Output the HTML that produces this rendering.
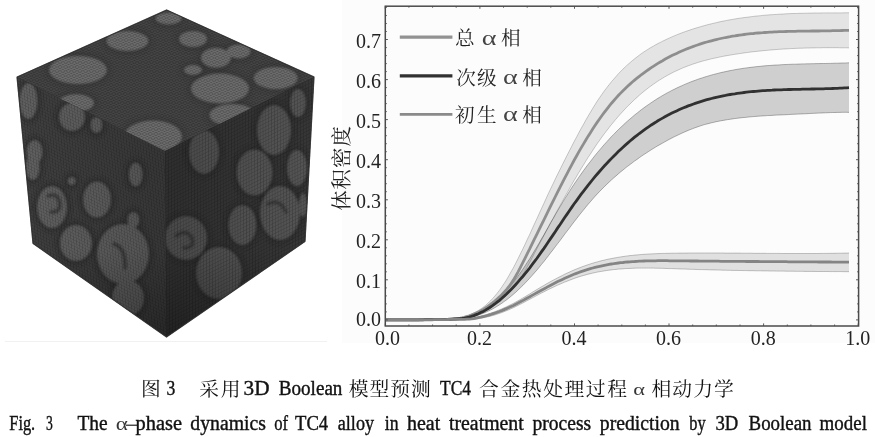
<!DOCTYPE html>
<html lang="zh"><head><meta charset="utf-8"><title>Fig. 3</title>
<style>html,body{margin:0;padding:0;background:#fff}body{width:875px;height:437px;position:relative;overflow:hidden;font-family:"Liberation Serif",serif}</style></head>
<body>
<svg width="875" height="437" viewBox="0 0 875 437" style="position:absolute;left:0;top:0">
<g opacity="0.995">
<defs><filter id="b1" x="-5%" y="-5%" width="110%" height="110%"><feGaussianBlur stdDeviation="1.1"/></filter><filter id="b2" x="-5%" y="-5%" width="110%" height="110%"><feGaussianBlur stdDeviation="2.2"/></filter><filter id="b0" x="-5%" y="-5%" width="110%" height="110%"><feGaussianBlur stdDeviation="0.45"/></filter><clipPath id="cT"><polygon points="166.7,10 314,77 165,151 17,77"/></clipPath><clipPath id="cL"><polygon points="17,77 165,151 166.5,337 33,243.5"/></clipPath><clipPath id="cR"><polygon points="165,151 314,77 305,241.5 166.5,337"/></clipPath><pattern id="gr" width="3" height="3" patternUnits="userSpaceOnUse"><path d="M0,0H3M0,0V3" stroke="#000" stroke-opacity=".22" stroke-width=".8"/></pattern></defs>
<rect x="342" y="0" width="533" height="343" fill="#fcfcfc"/>
<defs><linearGradient id="sL" gradientUnits="userSpaceOnUse" x1="17" y1="0" x2="166" y2="0"><stop offset="0" stop-color="#000" stop-opacity="0"/><stop offset="1" stop-color="#000" stop-opacity=".14"/></linearGradient><linearGradient id="sR" gradientUnits="userSpaceOnUse" x1="166" y1="0" x2="312" y2="0"><stop offset="0" stop-color="#000" stop-opacity=".16"/><stop offset="1" stop-color="#000" stop-opacity=".02"/></linearGradient><linearGradient id="sB" gradientUnits="userSpaceOnUse" x1="0" y1="250" x2="0" y2="337"><stop offset="0" stop-color="#000" stop-opacity="0"/><stop offset="1" stop-color="#000" stop-opacity=".28"/></linearGradient></defs><defs><pattern id="gT" width="1" height="1" patternUnits="userSpaceOnUse" patternTransform="matrix(2.8327 1.2885 -2.8788 1.2885 166.7 10)"><path d="M0,0H1M0,0V1" stroke="#000" stroke-opacity="0.35" stroke-width=".3"/></pattern><pattern id="gL" width="1" height="1" patternUnits="userSpaceOnUse" patternTransform="matrix(2.8462 1.4231 0.3077 3.2019 17 77)"><path d="M0,0H1M0,0V1" stroke="#000" stroke-opacity="0.3" stroke-width=".3"/></pattern><pattern id="gR" width="1" height="1" patternUnits="userSpaceOnUse" patternTransform="matrix(2.8654 -1.4231 0.0288 3.5769 165 151)"><path d="M0,0H1M0,0V1" stroke="#000" stroke-opacity="0.3" stroke-width=".3"/></pattern></defs><g filter="url(#b0)"><polygon points="166.7,10 314,77 305,241.5 166.5,337 33,243.5 17,77" fill="#3a3a3a" stroke="#3a3a3a" stroke-width="0.6"/></g><polygon points="166.7,10 314,77 165,151 17,77" fill="#434343"/><polygon points="17,77 165,151 166.5,337 33,243.5" fill="#3e3e3e"/><polygon points="165,151 314,77 305,241.5 166.5,337" fill="#363636"/><g clip-path="url(#cT)"><g filter="url(#b2)" fill="#333" fill-opacity=".55"><ellipse cx="168.6" cy="18.5" rx="16.5" ry="9.5"/><ellipse cx="127.4" cy="41" rx="24.5" ry="13.5"/><ellipse cx="193" cy="39" rx="17.5" ry="11.5"/><ellipse cx="78" cy="70" rx="32.5" ry="17.5"/><ellipse cx="216" cy="57.7" rx="18.5" ry="13.5"/><ellipse cx="238.6" cy="51.5" rx="15.5" ry="10.5"/><ellipse cx="220" cy="88.5" rx="32.5" ry="18.5"/><ellipse cx="275.7" cy="78" rx="25.5" ry="14.5"/><ellipse cx="232.4" cy="115" rx="26.5" ry="14.5"/><ellipse cx="153" cy="136.5" rx="32.5" ry="19.5"/><ellipse cx="193" cy="70" rx="12.5" ry="8.5"/><ellipse cx="76" cy="103" rx="21.5" ry="12.5"/></g><g filter="url(#b1)" fill="#6a6a6a"><ellipse cx="168.6" cy="18.5" rx="13" ry="6"/><ellipse cx="127.4" cy="41" rx="21" ry="10"/><ellipse cx="193" cy="39" rx="14" ry="8"/><ellipse cx="78" cy="70" rx="29" ry="14"/><ellipse cx="216" cy="57.7" rx="15" ry="10"/><ellipse cx="238.6" cy="51.5" rx="12" ry="7"/><ellipse cx="220" cy="88.5" rx="29" ry="15"/><ellipse cx="275.7" cy="78" rx="22" ry="11"/><ellipse cx="232.4" cy="115" rx="23" ry="11"/><ellipse cx="153" cy="136.5" rx="29" ry="16"/><ellipse cx="193" cy="70" rx="9" ry="5"/><ellipse cx="76" cy="103" rx="18" ry="9"/></g></g><g clip-path="url(#cL)"><g filter="url(#b2)" fill="#2c2c2c" fill-opacity=".55"><ellipse cx="28.5" cy="101" rx="12.5" ry="21.5"/><ellipse cx="72" cy="117" rx="16.5" ry="17.5"/><ellipse cx="96.5" cy="125" rx="9.5" ry="11.5"/><ellipse cx="34.7" cy="152" rx="11.5" ry="15.5"/><ellipse cx="52" cy="207" rx="18.5" ry="24.5"/><ellipse cx="97" cy="199.5" rx="17.5" ry="21.5"/><ellipse cx="76" cy="243" rx="19.5" ry="21.5"/><ellipse cx="123" cy="254" rx="29.5" ry="33.5"/><ellipse cx="128" cy="298" rx="19.5" ry="21.5"/><ellipse cx="135.7" cy="174.5" rx="10.5" ry="15.5"/><ellipse cx="133.4" cy="220" rx="9.5" ry="11.5"/><ellipse cx="32.8" cy="167" rx="10.5" ry="16.5"/><ellipse cx="71.7" cy="181" rx="7.5" ry="7.5"/></g><g filter="url(#b1)" fill="#5f5f5f"><ellipse cx="28.5" cy="101" rx="9" ry="18"/><ellipse cx="72" cy="117" rx="13" ry="14"/><ellipse cx="96.5" cy="125" rx="6" ry="8"/><ellipse cx="34.7" cy="152" rx="8" ry="12"/><ellipse cx="52" cy="207" rx="15" ry="21"/><ellipse cx="97" cy="199.5" rx="14" ry="18"/><ellipse cx="76" cy="243" rx="16" ry="18"/><ellipse cx="123" cy="254" rx="26" ry="30"/><ellipse cx="128" cy="298" rx="16" ry="18"/><ellipse cx="135.7" cy="174.5" rx="7" ry="12"/><ellipse cx="133.4" cy="220" rx="6" ry="8"/><ellipse cx="32.8" cy="167" rx="7" ry="13"/><ellipse cx="71.7" cy="181" rx="4" ry="4"/></g></g><g clip-path="url(#cR)"><g filter="url(#b2)" fill="#282828" fill-opacity=".55"><ellipse cx="274" cy="130" rx="20.5" ry="28.5"/><ellipse cx="298" cy="103" rx="11.5" ry="17.5"/><ellipse cx="204" cy="152" rx="18.5" ry="25.5"/><ellipse cx="254.5" cy="172.5" rx="21.5" ry="26.5"/><ellipse cx="297" cy="168" rx="13.5" ry="21.5"/><ellipse cx="186" cy="238" rx="24.5" ry="25.5"/><ellipse cx="242.4" cy="225" rx="17.5" ry="23.5"/><ellipse cx="280" cy="213" rx="23.5" ry="30.5"/><ellipse cx="219" cy="273" rx="26.5" ry="29.5"/><ellipse cx="303" cy="205" rx="7.5" ry="15.5"/></g><g filter="url(#b1)" fill="#545454"><ellipse cx="274" cy="130" rx="17" ry="25"/><ellipse cx="298" cy="103" rx="8" ry="14"/><ellipse cx="204" cy="152" rx="15" ry="22"/><ellipse cx="254.5" cy="172.5" rx="18" ry="23"/><ellipse cx="297" cy="168" rx="10" ry="18"/><ellipse cx="186" cy="238" rx="21" ry="22"/><ellipse cx="242.4" cy="225" rx="14" ry="20"/><ellipse cx="280" cy="213" rx="20" ry="27"/><ellipse cx="219" cy="273" rx="23" ry="26"/><ellipse cx="303" cy="205" rx="4" ry="12"/></g></g><g filter="url(#b1)" fill="none" stroke="#333" stroke-width="3.5" stroke-linecap="round" stroke-opacity=".8"><path d="M48,196 q10,-4 12,8 q0,9 -9,8"/><path d="M176,236 q10,-8 16,2 q3,10 -8,10"/><path d="M114,244 q12,4 11,24"/><path d="M268,204 q12,-6 18,8"/></g><polygon points="17,77 165,151 166.5,337 33,243.5" fill="url(#sL)"/><polygon points="165,151 314,77 305,241.5 166.5,337" fill="url(#sR)"/><polygon points="17,77 165,151 314,77 305,241.5 166.5,337 33,243.5" fill="url(#sB)"/><polygon points="166.7,10 314,77 165,151 17,77" fill="url(#gT)"/><polygon points="17,77 165,151 166.5,337 33,243.5" fill="url(#gL)"/><polygon points="165,151 314,77 305,241.5 166.5,337" fill="url(#gR)"/><polygon points="166.7,10 314,77 305,241.5 166.5,337 33,243.5 17,77" fill="none" stroke="#2e2e2e" stroke-width="1.2" stroke-opacity=".7" filter="url(#b0)"/>
<rect x="5" y="341" width="322" height="1" fill="#f1f1f1"/>
<g fill="none">
<path d="M385.3,319.7 L387.6,319.7 L390.0,319.7 L392.3,319.7 L394.6,319.7 L397.0,319.7 L399.3,319.7 L401.6,319.7 L403.9,319.6 L406.3,319.6 L408.6,319.6 L410.9,319.6 L413.3,319.6 L415.6,319.6 L417.9,319.5 L420.3,319.5 L422.6,319.5 L424.9,319.4 L427.2,319.4 L429.6,319.4 L431.9,319.3 L434.2,319.3 L436.6,319.3 L438.9,319.2 L441.2,319.2 L443.6,319.1 L445.9,319.0 L448.2,318.8 L450.5,318.6 L452.9,318.3 L455.2,318.1 L457.5,317.8 L459.9,317.4 L462.2,316.9 L464.5,316.2 L466.9,315.5 L469.2,314.7 L471.5,313.9 L473.8,312.9 L476.2,311.7 L478.5,310.4 L480.8,308.9 L483.2,307.2 L485.5,305.4 L487.8,303.3 L490.2,301.1 L492.5,298.7 L494.8,296.1 L497.1,293.3 L499.5,290.2 L501.8,287.0 L504.1,283.5 L506.5,279.8 L508.8,275.8 L511.1,271.7 L513.5,267.5 L515.8,263.1 L518.1,258.5 L520.4,253.8 L522.8,249.0 L525.1,244.2 L527.4,239.2 L529.8,234.2 L532.1,229.1 L534.4,224.0 L536.8,218.9 L539.1,213.8 L541.4,208.7 L543.8,203.6 L546.1,198.5 L548.4,193.5 L550.7,188.6 L553.1,183.7 L555.4,178.8 L557.7,174.1 L560.1,169.3 L562.4,164.6 L564.7,160.0 L567.1,155.3 L569.4,150.8 L571.7,146.3 L574.0,141.8 L576.4,137.4 L578.7,133.0 L581.0,128.7 L583.4,124.5 L585.7,120.3 L588.0,116.3 L590.4,112.3 L592.7,108.4 L595.0,104.7 L597.3,101.0 L599.7,97.5 L602.0,94.2 L604.3,90.9 L606.7,87.8 L609.0,84.8 L611.3,81.9 L613.7,79.2 L616.0,76.5 L618.3,73.9 L620.6,71.5 L623.0,69.1 L625.3,66.9 L627.6,64.7 L630.0,62.7 L632.3,60.7 L634.6,58.8 L637.0,57.0 L639.3,55.2 L641.6,53.5 L643.9,51.9 L646.3,50.4 L648.6,48.9 L650.9,47.5 L653.3,46.2 L655.6,44.8 L657.9,43.6 L660.3,42.4 L662.6,41.2 L664.9,40.1 L667.2,39.0 L669.6,37.9 L671.9,36.9 L674.2,35.9 L676.6,34.9 L678.9,34.0 L681.2,33.1 L683.6,32.2 L685.9,31.4 L688.2,30.6 L690.5,29.8 L692.9,29.0 L695.2,28.3 L697.5,27.6 L699.9,26.9 L702.2,26.2 L704.5,25.6 L706.9,24.9 L709.2,24.3 L711.5,23.8 L713.9,23.2 L716.2,22.7 L718.5,22.1 L720.8,21.6 L723.2,21.1 L725.5,20.7 L727.8,20.2 L730.2,19.8 L732.5,19.4 L734.8,19.0 L737.2,18.6 L739.5,18.2 L741.8,17.9 L744.1,17.6 L746.5,17.3 L748.8,17.0 L751.1,16.7 L753.5,16.4 L755.8,16.1 L758.1,15.9 L760.5,15.7 L762.8,15.4 L765.1,15.2 L767.4,15.0 L769.8,14.8 L772.1,14.7 L774.4,14.5 L776.8,14.4 L779.1,14.2 L781.4,14.1 L783.8,14.0 L786.1,13.8 L788.4,13.7 L790.7,13.6 L793.1,13.5 L795.4,13.5 L797.7,13.4 L800.1,13.3 L802.4,13.3 L804.7,13.2 L807.1,13.2 L809.4,13.1 L811.7,13.1 L814.0,13.0 L816.4,13.0 L818.7,13.0 L821.0,13.0 L823.4,12.9 L825.7,12.9 L828.0,12.9 L830.4,12.9 L832.7,12.9 L835.0,12.9 L837.3,12.9 L839.7,12.9 L842.0,12.9 L844.3,12.8 L846.7,12.8 L849.0,12.8 L849.0,47.9 L846.7,47.8 L844.3,47.8 L842.0,47.8 L839.7,47.8 L837.3,47.7 L835.0,47.7 L832.7,47.7 L830.4,47.7 L828.0,47.7 L825.7,47.7 L823.4,47.7 L821.0,47.8 L818.7,47.8 L816.4,47.8 L814.0,47.9 L811.7,47.9 L809.4,48.0 L807.1,48.0 L804.7,48.1 L802.4,48.2 L800.1,48.2 L797.7,48.3 L795.4,48.4 L793.1,48.5 L790.7,48.6 L788.4,48.8 L786.1,48.9 L783.8,49.0 L781.4,49.2 L779.1,49.3 L776.8,49.5 L774.4,49.7 L772.1,49.9 L769.8,50.1 L767.4,50.3 L765.1,50.5 L762.8,50.7 L760.5,51.0 L758.1,51.2 L755.8,51.5 L753.5,51.7 L751.1,52.0 L748.8,52.3 L746.5,52.6 L744.1,52.9 L741.8,53.3 L739.5,53.6 L737.2,54.0 L734.8,54.3 L732.5,54.7 L730.2,55.1 L727.8,55.5 L725.5,55.9 L723.2,56.3 L720.8,56.8 L718.5,57.3 L716.2,57.8 L713.9,58.3 L711.5,58.8 L709.2,59.4 L706.9,60.0 L704.5,60.6 L702.2,61.2 L699.9,61.9 L697.5,62.6 L695.2,63.4 L692.9,64.1 L690.5,65.0 L688.2,65.8 L685.9,66.7 L683.6,67.6 L681.2,68.6 L678.9,69.7 L676.6,70.7 L674.2,71.8 L671.9,73.0 L669.6,74.2 L667.2,75.5 L664.9,76.8 L662.6,78.2 L660.3,79.6 L657.9,81.1 L655.6,82.7 L653.3,84.3 L650.9,86.0 L648.6,87.7 L646.3,89.5 L643.9,91.4 L641.6,93.3 L639.3,95.3 L637.0,97.4 L634.6,99.5 L632.3,101.7 L630.0,104.0 L627.6,106.3 L625.3,108.7 L623.0,111.2 L620.6,113.8 L618.3,116.4 L616.0,119.1 L613.7,121.9 L611.3,124.7 L609.0,127.7 L606.7,130.7 L604.3,133.8 L602.0,136.9 L599.7,140.2 L597.3,143.5 L595.0,146.9 L592.7,150.4 L590.4,154.0 L588.0,157.6 L585.7,161.3 L583.4,165.1 L581.0,168.9 L578.7,172.8 L576.4,176.7 L574.0,180.7 L571.7,184.7 L569.4,188.8 L567.1,192.9 L564.7,197.1 L562.4,201.3 L560.1,205.5 L557.7,209.8 L555.4,214.0 L553.1,218.4 L550.7,222.7 L548.4,227.1 L546.1,231.4 L543.8,235.8 L541.4,240.2 L539.1,244.6 L536.8,249.0 L534.4,253.4 L532.1,257.9 L529.8,262.3 L527.4,266.6 L525.1,270.9 L522.8,274.9 L520.4,278.7 L518.1,282.2 L515.8,285.4 L513.5,288.3 L511.1,290.9 L508.8,293.3 L506.5,295.6 L504.1,297.7 L501.8,299.6 L499.5,301.5 L497.1,303.3 L494.8,304.9 L492.5,306.5 L490.2,308.0 L487.8,309.4 L485.5,310.7 L483.2,311.9 L480.8,313.0 L478.5,314.0 L476.2,314.9 L473.8,315.8 L471.5,316.6 L469.2,317.3 L466.9,317.9 L464.5,318.4 L462.2,318.7 L459.9,319.0 L457.5,319.1 L455.2,319.2 L452.9,319.4 L450.5,319.5 L448.2,319.6 L445.9,319.7 L443.6,319.7 L441.2,319.8 L438.9,319.8 L436.6,319.8 L434.2,319.9 L431.9,319.9 L429.6,319.9 L427.2,319.9 L424.9,319.9 L422.6,320.0 L420.3,320.0 L417.9,320.0 L415.6,320.0 L413.3,320.0 L410.9,320.0 L408.6,320.0 L406.3,320.1 L403.9,320.1 L401.6,320.1 L399.3,320.1 L397.0,320.1 L394.6,320.1 L392.3,320.1 L390.0,320.1 L387.6,320.1 L385.3,320.1Z" fill="#000" fill-opacity="0.095"/>
<path d="M385.3,319.7 L387.6,319.7 L390.0,319.7 L392.3,319.7 L394.6,319.7 L397.0,319.7 L399.3,319.7 L401.6,319.7 L403.9,319.6 L406.3,319.6 L408.6,319.6 L410.9,319.6 L413.3,319.6 L415.6,319.6 L417.9,319.5 L420.3,319.5 L422.6,319.5 L424.9,319.4 L427.2,319.4 L429.6,319.4 L431.9,319.3 L434.2,319.3 L436.6,319.3 L438.9,319.2 L441.2,319.2 L443.6,319.1 L445.9,319.0 L448.2,318.8 L450.5,318.6 L452.9,318.3 L455.2,318.1 L457.5,317.8 L459.9,317.4 L462.2,316.9 L464.5,316.2 L466.9,315.5 L469.2,314.7 L471.5,313.9 L473.8,312.9 L476.2,311.7 L478.5,310.4 L480.8,308.9 L483.2,307.2 L485.5,305.4 L487.8,303.3 L490.2,301.1 L492.5,298.7 L494.8,296.1 L497.1,293.3 L499.5,290.2 L501.8,287.0 L504.1,283.5 L506.5,279.8 L508.8,275.8 L511.1,271.7 L513.5,267.5 L515.8,263.1 L518.1,258.5 L520.4,253.8 L522.8,249.0 L525.1,244.2 L527.4,239.2 L529.8,234.2 L532.1,229.1 L534.4,224.0 L536.8,218.9 L539.1,213.8 L541.4,208.7 L543.8,203.6 L546.1,198.5 L548.4,193.5 L550.7,188.6 L553.1,183.7 L555.4,178.8 L557.7,174.1 L560.1,169.3 L562.4,164.6 L564.7,160.0 L567.1,155.3 L569.4,150.8 L571.7,146.3 L574.0,141.8 L576.4,137.4 L578.7,133.0 L581.0,128.7 L583.4,124.5 L585.7,120.3 L588.0,116.3 L590.4,112.3 L592.7,108.4 L595.0,104.7 L597.3,101.0 L599.7,97.5 L602.0,94.2 L604.3,90.9 L606.7,87.8 L609.0,84.8 L611.3,81.9 L613.7,79.2 L616.0,76.5 L618.3,73.9 L620.6,71.5 L623.0,69.1 L625.3,66.9 L627.6,64.7 L630.0,62.7 L632.3,60.7 L634.6,58.8 L637.0,57.0 L639.3,55.2 L641.6,53.5 L643.9,51.9 L646.3,50.4 L648.6,48.9 L650.9,47.5 L653.3,46.2 L655.6,44.8 L657.9,43.6 L660.3,42.4 L662.6,41.2 L664.9,40.1 L667.2,39.0 L669.6,37.9 L671.9,36.9 L674.2,35.9 L676.6,34.9 L678.9,34.0 L681.2,33.1 L683.6,32.2 L685.9,31.4 L688.2,30.6 L690.5,29.8 L692.9,29.0 L695.2,28.3 L697.5,27.6 L699.9,26.9 L702.2,26.2 L704.5,25.6 L706.9,24.9 L709.2,24.3 L711.5,23.8 L713.9,23.2 L716.2,22.7 L718.5,22.1 L720.8,21.6 L723.2,21.1 L725.5,20.7 L727.8,20.2 L730.2,19.8 L732.5,19.4 L734.8,19.0 L737.2,18.6 L739.5,18.2 L741.8,17.9 L744.1,17.6 L746.5,17.3 L748.8,17.0 L751.1,16.7 L753.5,16.4 L755.8,16.1 L758.1,15.9 L760.5,15.7 L762.8,15.4 L765.1,15.2 L767.4,15.0 L769.8,14.8 L772.1,14.7 L774.4,14.5 L776.8,14.4 L779.1,14.2 L781.4,14.1 L783.8,14.0 L786.1,13.8 L788.4,13.7 L790.7,13.6 L793.1,13.5 L795.4,13.5 L797.7,13.4 L800.1,13.3 L802.4,13.3 L804.7,13.2 L807.1,13.2 L809.4,13.1 L811.7,13.1 L814.0,13.0 L816.4,13.0 L818.7,13.0 L821.0,13.0 L823.4,12.9 L825.7,12.9 L828.0,12.9 L830.4,12.9 L832.7,12.9 L835.0,12.9 L837.3,12.9 L839.7,12.9 L842.0,12.9 L844.3,12.8 L846.7,12.8 L849.0,12.8 M385.3,320.1 L387.6,320.1 L390.0,320.1 L392.3,320.1 L394.6,320.1 L397.0,320.1 L399.3,320.1 L401.6,320.1 L403.9,320.1 L406.3,320.1 L408.6,320.0 L410.9,320.0 L413.3,320.0 L415.6,320.0 L417.9,320.0 L420.3,320.0 L422.6,320.0 L424.9,319.9 L427.2,319.9 L429.6,319.9 L431.9,319.9 L434.2,319.9 L436.6,319.8 L438.9,319.8 L441.2,319.8 L443.6,319.7 L445.9,319.7 L448.2,319.6 L450.5,319.5 L452.9,319.4 L455.2,319.2 L457.5,319.1 L459.9,319.0 L462.2,318.7 L464.5,318.4 L466.9,317.9 L469.2,317.3 L471.5,316.6 L473.8,315.8 L476.2,314.9 L478.5,314.0 L480.8,313.0 L483.2,311.9 L485.5,310.7 L487.8,309.4 L490.2,308.0 L492.5,306.5 L494.8,304.9 L497.1,303.3 L499.5,301.5 L501.8,299.6 L504.1,297.7 L506.5,295.6 L508.8,293.3 L511.1,290.9 L513.5,288.3 L515.8,285.4 L518.1,282.2 L520.4,278.7 L522.8,274.9 L525.1,270.9 L527.4,266.6 L529.8,262.3 L532.1,257.9 L534.4,253.4 L536.8,249.0 L539.1,244.6 L541.4,240.2 L543.8,235.8 L546.1,231.4 L548.4,227.1 L550.7,222.7 L553.1,218.4 L555.4,214.0 L557.7,209.8 L560.1,205.5 L562.4,201.3 L564.7,197.1 L567.1,192.9 L569.4,188.8 L571.7,184.7 L574.0,180.7 L576.4,176.7 L578.7,172.8 L581.0,168.9 L583.4,165.1 L585.7,161.3 L588.0,157.6 L590.4,154.0 L592.7,150.4 L595.0,146.9 L597.3,143.5 L599.7,140.2 L602.0,136.9 L604.3,133.8 L606.7,130.7 L609.0,127.7 L611.3,124.7 L613.7,121.9 L616.0,119.1 L618.3,116.4 L620.6,113.8 L623.0,111.2 L625.3,108.7 L627.6,106.3 L630.0,104.0 L632.3,101.7 L634.6,99.5 L637.0,97.4 L639.3,95.3 L641.6,93.3 L643.9,91.4 L646.3,89.5 L648.6,87.7 L650.9,86.0 L653.3,84.3 L655.6,82.7 L657.9,81.1 L660.3,79.6 L662.6,78.2 L664.9,76.8 L667.2,75.5 L669.6,74.2 L671.9,73.0 L674.2,71.8 L676.6,70.7 L678.9,69.7 L681.2,68.6 L683.6,67.6 L685.9,66.7 L688.2,65.8 L690.5,65.0 L692.9,64.1 L695.2,63.4 L697.5,62.6 L699.9,61.9 L702.2,61.2 L704.5,60.6 L706.9,60.0 L709.2,59.4 L711.5,58.8 L713.9,58.3 L716.2,57.8 L718.5,57.3 L720.8,56.8 L723.2,56.3 L725.5,55.9 L727.8,55.5 L730.2,55.1 L732.5,54.7 L734.8,54.3 L737.2,54.0 L739.5,53.6 L741.8,53.3 L744.1,52.9 L746.5,52.6 L748.8,52.3 L751.1,52.0 L753.5,51.7 L755.8,51.5 L758.1,51.2 L760.5,51.0 L762.8,50.7 L765.1,50.5 L767.4,50.3 L769.8,50.1 L772.1,49.9 L774.4,49.7 L776.8,49.5 L779.1,49.3 L781.4,49.2 L783.8,49.0 L786.1,48.9 L788.4,48.8 L790.7,48.6 L793.1,48.5 L795.4,48.4 L797.7,48.3 L800.1,48.2 L802.4,48.2 L804.7,48.1 L807.1,48.0 L809.4,48.0 L811.7,47.9 L814.0,47.9 L816.4,47.8 L818.7,47.8 L821.0,47.8 L823.4,47.7 L825.7,47.7 L828.0,47.7 L830.4,47.7 L832.7,47.7 L835.0,47.7 L837.3,47.7 L839.7,47.8 L842.0,47.8 L844.3,47.8 L846.7,47.8 L849.0,47.9" stroke="#000" stroke-opacity="0.22" stroke-width="0.9"/>
<path d="M385.3,319.8 L387.6,319.8 L390.0,319.8 L392.3,319.8 L394.6,319.8 L397.0,319.8 L399.3,319.8 L401.6,319.8 L403.9,319.8 L406.3,319.7 L408.6,319.7 L410.9,319.7 L413.3,319.7 L415.6,319.7 L417.9,319.7 L420.3,319.6 L422.6,319.6 L424.9,319.6 L427.2,319.6 L429.6,319.5 L431.9,319.5 L434.2,319.5 L436.6,319.4 L438.9,319.4 L441.2,319.4 L443.6,319.3 L445.9,319.2 L448.2,319.1 L450.5,319.0 L452.9,318.8 L455.2,318.6 L457.5,318.5 L459.9,318.3 L462.2,318.0 L464.5,317.5 L466.9,316.9 L469.2,316.3 L471.5,315.5 L473.8,314.6 L476.2,313.6 L478.5,312.6 L480.8,311.4 L483.2,310.1 L485.5,308.7 L487.8,307.2 L490.2,305.5 L492.5,303.8 L494.8,301.9 L497.1,299.9 L499.5,297.8 L501.8,295.5 L504.1,293.1 L506.5,290.5 L508.8,287.9 L511.1,285.1 L513.5,282.2 L515.8,279.1 L518.1,276.0 L520.4,272.7 L522.8,269.3 L525.1,265.8 L527.4,262.2 L529.8,258.6 L532.1,254.8 L534.4,250.9 L536.8,247.0 L539.1,243.1 L541.4,239.0 L543.8,235.0 L546.1,230.9 L548.4,226.8 L550.7,222.7 L553.1,218.7 L555.4,214.6 L557.7,210.6 L560.1,206.6 L562.4,202.7 L564.7,198.9 L567.1,195.1 L569.4,191.4 L571.7,187.8 L574.0,184.3 L576.4,180.8 L578.7,177.4 L581.0,174.1 L583.4,170.8 L585.7,167.6 L588.0,164.5 L590.4,161.5 L592.7,158.5 L595.0,155.5 L597.3,152.7 L599.7,149.9 L602.0,147.2 L604.3,144.5 L606.7,141.9 L609.0,139.3 L611.3,136.8 L613.7,134.4 L616.0,132.0 L618.3,129.7 L620.6,127.5 L623.0,125.3 L625.3,123.1 L627.6,121.0 L630.0,119.0 L632.3,117.0 L634.6,115.0 L637.0,113.2 L639.3,111.3 L641.6,109.5 L643.9,107.8 L646.3,106.1 L648.6,104.5 L650.9,102.9 L653.3,101.3 L655.6,99.8 L657.9,98.3 L660.3,96.9 L662.6,95.5 L664.9,94.2 L667.2,92.9 L669.6,91.7 L671.9,90.4 L674.2,89.3 L676.6,88.1 L678.9,87.0 L681.2,86.0 L683.6,84.9 L685.9,83.9 L688.2,83.0 L690.5,82.0 L692.9,81.1 L695.2,80.3 L697.5,79.4 L699.9,78.6 L702.2,77.9 L704.5,77.1 L706.9,76.4 L709.2,75.7 L711.5,75.0 L713.9,74.4 L716.2,73.8 L718.5,73.2 L720.8,72.6 L723.2,72.1 L725.5,71.6 L727.8,71.1 L730.2,70.6 L732.5,70.2 L734.8,69.7 L737.2,69.3 L739.5,68.9 L741.8,68.6 L744.1,68.2 L746.5,67.9 L748.8,67.6 L751.1,67.3 L753.5,67.0 L755.8,66.7 L758.1,66.5 L760.5,66.3 L762.8,66.0 L765.1,65.8 L767.4,65.6 L769.8,65.5 L772.1,65.3 L774.4,65.1 L776.8,65.0 L779.1,64.9 L781.4,64.7 L783.8,64.6 L786.1,64.5 L788.4,64.4 L790.7,64.3 L793.1,64.2 L795.4,64.2 L797.7,64.1 L800.1,64.0 L802.4,63.9 L804.7,63.9 L807.1,63.8 L809.4,63.8 L811.7,63.7 L814.0,63.7 L816.4,63.6 L818.7,63.6 L821.0,63.5 L823.4,63.5 L825.7,63.5 L828.0,63.4 L830.4,63.4 L832.7,63.3 L835.0,63.2 L837.3,63.2 L839.7,63.1 L842.0,63.0 L844.3,63.0 L846.7,62.9 L849.0,62.8 L849.0,112.4 L846.7,112.3 L844.3,112.3 L842.0,112.3 L839.7,112.4 L837.3,112.4 L835.0,112.5 L832.7,112.5 L830.4,112.6 L828.0,112.7 L825.7,112.8 L823.4,112.9 L821.0,113.0 L818.7,113.1 L816.4,113.2 L814.0,113.3 L811.7,113.4 L809.4,113.5 L807.1,113.7 L804.7,113.8 L802.4,113.9 L800.1,114.0 L797.7,114.1 L795.4,114.2 L793.1,114.3 L790.7,114.4 L788.4,114.6 L786.1,114.7 L783.8,114.8 L781.4,114.9 L779.1,115.0 L776.8,115.1 L774.4,115.2 L772.1,115.4 L769.8,115.5 L767.4,115.6 L765.1,115.8 L762.8,115.9 L760.5,116.1 L758.1,116.2 L755.8,116.4 L753.5,116.6 L751.1,116.8 L748.8,117.0 L746.5,117.3 L744.1,117.5 L741.8,117.7 L739.5,118.0 L737.2,118.3 L734.8,118.6 L732.5,118.9 L730.2,119.3 L727.8,119.6 L725.5,120.0 L723.2,120.4 L720.8,120.8 L718.5,121.3 L716.2,121.7 L713.9,122.3 L711.5,122.8 L709.2,123.4 L706.9,124.0 L704.5,124.6 L702.2,125.3 L699.9,126.1 L697.5,126.9 L695.2,127.7 L692.9,128.6 L690.5,129.5 L688.2,130.4 L685.9,131.4 L683.6,132.4 L681.2,133.5 L678.9,134.6 L676.6,135.7 L674.2,136.8 L671.9,138.0 L669.6,139.2 L667.2,140.5 L664.9,141.8 L662.6,143.1 L660.3,144.4 L657.9,145.7 L655.6,147.1 L653.3,148.5 L650.9,150.0 L648.6,151.5 L646.3,153.0 L643.9,154.5 L641.6,156.1 L639.3,157.7 L637.0,159.4 L634.6,161.0 L632.3,162.8 L630.0,164.5 L627.6,166.3 L625.3,168.1 L623.0,170.0 L620.6,171.9 L618.3,173.9 L616.0,175.9 L613.7,177.9 L611.3,180.1 L609.0,182.2 L606.7,184.4 L604.3,186.7 L602.0,189.0 L599.7,191.4 L597.3,193.9 L595.0,196.4 L592.7,199.0 L590.4,201.7 L588.0,204.4 L585.7,207.2 L583.4,210.1 L581.0,213.0 L578.7,215.9 L576.4,218.9 L574.0,221.9 L571.7,225.0 L569.4,228.1 L567.1,231.1 L564.7,234.2 L562.4,237.4 L560.1,240.5 L557.7,243.6 L555.4,246.6 L553.1,249.7 L550.7,252.7 L548.4,255.8 L546.1,258.7 L543.8,261.7 L541.4,264.5 L539.1,267.4 L536.8,270.2 L534.4,272.9 L532.1,275.5 L529.8,278.1 L527.4,280.7 L525.1,283.1 L522.8,285.5 L520.4,287.8 L518.1,290.0 L515.8,292.2 L513.5,294.2 L511.1,296.2 L508.8,298.1 L506.5,299.9 L504.1,301.6 L501.8,303.3 L499.5,304.8 L497.1,306.3 L494.8,307.7 L492.5,309.0 L490.2,310.2 L487.8,311.3 L485.5,312.4 L483.2,313.4 L480.8,314.3 L478.5,315.1 L476.2,315.9 L473.8,316.6 L471.5,317.2 L469.2,317.7 L466.9,318.2 L464.5,318.6 L462.2,318.9 L459.9,319.1 L457.5,319.2 L455.2,319.3 L452.9,319.4 L450.5,319.5 L448.2,319.6 L445.9,319.7 L443.6,319.7 L441.2,319.8 L438.9,319.8 L436.6,319.8 L434.2,319.8 L431.9,319.9 L429.6,319.9 L427.2,319.9 L424.9,319.9 L422.6,319.9 L420.3,319.9 L417.9,319.9 L415.6,319.9 L413.3,320.0 L410.9,320.0 L408.6,320.0 L406.3,320.0 L403.9,320.0 L401.6,320.0 L399.3,320.0 L397.0,320.0 L394.6,320.0 L392.3,320.0 L390.0,320.0 L387.6,320.0 L385.3,320.0Z" fill="#000" fill-opacity="0.175"/>
<path d="M385.3,319.8 L387.6,319.8 L390.0,319.8 L392.3,319.8 L394.6,319.8 L397.0,319.8 L399.3,319.8 L401.6,319.8 L403.9,319.8 L406.3,319.7 L408.6,319.7 L410.9,319.7 L413.3,319.7 L415.6,319.7 L417.9,319.7 L420.3,319.6 L422.6,319.6 L424.9,319.6 L427.2,319.6 L429.6,319.5 L431.9,319.5 L434.2,319.5 L436.6,319.4 L438.9,319.4 L441.2,319.4 L443.6,319.3 L445.9,319.2 L448.2,319.1 L450.5,319.0 L452.9,318.8 L455.2,318.6 L457.5,318.5 L459.9,318.3 L462.2,318.0 L464.5,317.5 L466.9,316.9 L469.2,316.3 L471.5,315.5 L473.8,314.6 L476.2,313.6 L478.5,312.6 L480.8,311.4 L483.2,310.1 L485.5,308.7 L487.8,307.2 L490.2,305.5 L492.5,303.8 L494.8,301.9 L497.1,299.9 L499.5,297.8 L501.8,295.5 L504.1,293.1 L506.5,290.5 L508.8,287.9 L511.1,285.1 L513.5,282.2 L515.8,279.1 L518.1,276.0 L520.4,272.7 L522.8,269.3 L525.1,265.8 L527.4,262.2 L529.8,258.6 L532.1,254.8 L534.4,250.9 L536.8,247.0 L539.1,243.1 L541.4,239.0 L543.8,235.0 L546.1,230.9 L548.4,226.8 L550.7,222.7 L553.1,218.7 L555.4,214.6 L557.7,210.6 L560.1,206.6 L562.4,202.7 L564.7,198.9 L567.1,195.1 L569.4,191.4 L571.7,187.8 L574.0,184.3 L576.4,180.8 L578.7,177.4 L581.0,174.1 L583.4,170.8 L585.7,167.6 L588.0,164.5 L590.4,161.5 L592.7,158.5 L595.0,155.5 L597.3,152.7 L599.7,149.9 L602.0,147.2 L604.3,144.5 L606.7,141.9 L609.0,139.3 L611.3,136.8 L613.7,134.4 L616.0,132.0 L618.3,129.7 L620.6,127.5 L623.0,125.3 L625.3,123.1 L627.6,121.0 L630.0,119.0 L632.3,117.0 L634.6,115.0 L637.0,113.2 L639.3,111.3 L641.6,109.5 L643.9,107.8 L646.3,106.1 L648.6,104.5 L650.9,102.9 L653.3,101.3 L655.6,99.8 L657.9,98.3 L660.3,96.9 L662.6,95.5 L664.9,94.2 L667.2,92.9 L669.6,91.7 L671.9,90.4 L674.2,89.3 L676.6,88.1 L678.9,87.0 L681.2,86.0 L683.6,84.9 L685.9,83.9 L688.2,83.0 L690.5,82.0 L692.9,81.1 L695.2,80.3 L697.5,79.4 L699.9,78.6 L702.2,77.9 L704.5,77.1 L706.9,76.4 L709.2,75.7 L711.5,75.0 L713.9,74.4 L716.2,73.8 L718.5,73.2 L720.8,72.6 L723.2,72.1 L725.5,71.6 L727.8,71.1 L730.2,70.6 L732.5,70.2 L734.8,69.7 L737.2,69.3 L739.5,68.9 L741.8,68.6 L744.1,68.2 L746.5,67.9 L748.8,67.6 L751.1,67.3 L753.5,67.0 L755.8,66.7 L758.1,66.5 L760.5,66.3 L762.8,66.0 L765.1,65.8 L767.4,65.6 L769.8,65.5 L772.1,65.3 L774.4,65.1 L776.8,65.0 L779.1,64.9 L781.4,64.7 L783.8,64.6 L786.1,64.5 L788.4,64.4 L790.7,64.3 L793.1,64.2 L795.4,64.2 L797.7,64.1 L800.1,64.0 L802.4,63.9 L804.7,63.9 L807.1,63.8 L809.4,63.8 L811.7,63.7 L814.0,63.7 L816.4,63.6 L818.7,63.6 L821.0,63.5 L823.4,63.5 L825.7,63.5 L828.0,63.4 L830.4,63.4 L832.7,63.3 L835.0,63.2 L837.3,63.2 L839.7,63.1 L842.0,63.0 L844.3,63.0 L846.7,62.9 L849.0,62.8 M385.3,320.0 L387.6,320.0 L390.0,320.0 L392.3,320.0 L394.6,320.0 L397.0,320.0 L399.3,320.0 L401.6,320.0 L403.9,320.0 L406.3,320.0 L408.6,320.0 L410.9,320.0 L413.3,320.0 L415.6,319.9 L417.9,319.9 L420.3,319.9 L422.6,319.9 L424.9,319.9 L427.2,319.9 L429.6,319.9 L431.9,319.9 L434.2,319.8 L436.6,319.8 L438.9,319.8 L441.2,319.8 L443.6,319.7 L445.9,319.7 L448.2,319.6 L450.5,319.5 L452.9,319.4 L455.2,319.3 L457.5,319.2 L459.9,319.1 L462.2,318.9 L464.5,318.6 L466.9,318.2 L469.2,317.7 L471.5,317.2 L473.8,316.6 L476.2,315.9 L478.5,315.1 L480.8,314.3 L483.2,313.4 L485.5,312.4 L487.8,311.3 L490.2,310.2 L492.5,309.0 L494.8,307.7 L497.1,306.3 L499.5,304.8 L501.8,303.3 L504.1,301.6 L506.5,299.9 L508.8,298.1 L511.1,296.2 L513.5,294.2 L515.8,292.2 L518.1,290.0 L520.4,287.8 L522.8,285.5 L525.1,283.1 L527.4,280.7 L529.8,278.1 L532.1,275.5 L534.4,272.9 L536.8,270.2 L539.1,267.4 L541.4,264.5 L543.8,261.7 L546.1,258.7 L548.4,255.8 L550.7,252.7 L553.1,249.7 L555.4,246.6 L557.7,243.6 L560.1,240.5 L562.4,237.4 L564.7,234.2 L567.1,231.1 L569.4,228.1 L571.7,225.0 L574.0,221.9 L576.4,218.9 L578.7,215.9 L581.0,213.0 L583.4,210.1 L585.7,207.2 L588.0,204.4 L590.4,201.7 L592.7,199.0 L595.0,196.4 L597.3,193.9 L599.7,191.4 L602.0,189.0 L604.3,186.7 L606.7,184.4 L609.0,182.2 L611.3,180.1 L613.7,177.9 L616.0,175.9 L618.3,173.9 L620.6,171.9 L623.0,170.0 L625.3,168.1 L627.6,166.3 L630.0,164.5 L632.3,162.8 L634.6,161.0 L637.0,159.4 L639.3,157.7 L641.6,156.1 L643.9,154.5 L646.3,153.0 L648.6,151.5 L650.9,150.0 L653.3,148.5 L655.6,147.1 L657.9,145.7 L660.3,144.4 L662.6,143.1 L664.9,141.8 L667.2,140.5 L669.6,139.2 L671.9,138.0 L674.2,136.8 L676.6,135.7 L678.9,134.6 L681.2,133.5 L683.6,132.4 L685.9,131.4 L688.2,130.4 L690.5,129.5 L692.9,128.6 L695.2,127.7 L697.5,126.9 L699.9,126.1 L702.2,125.3 L704.5,124.6 L706.9,124.0 L709.2,123.4 L711.5,122.8 L713.9,122.3 L716.2,121.7 L718.5,121.3 L720.8,120.8 L723.2,120.4 L725.5,120.0 L727.8,119.6 L730.2,119.3 L732.5,118.9 L734.8,118.6 L737.2,118.3 L739.5,118.0 L741.8,117.7 L744.1,117.5 L746.5,117.3 L748.8,117.0 L751.1,116.8 L753.5,116.6 L755.8,116.4 L758.1,116.2 L760.5,116.1 L762.8,115.9 L765.1,115.8 L767.4,115.6 L769.8,115.5 L772.1,115.4 L774.4,115.2 L776.8,115.1 L779.1,115.0 L781.4,114.9 L783.8,114.8 L786.1,114.7 L788.4,114.6 L790.7,114.4 L793.1,114.3 L795.4,114.2 L797.7,114.1 L800.1,114.0 L802.4,113.9 L804.7,113.8 L807.1,113.7 L809.4,113.5 L811.7,113.4 L814.0,113.3 L816.4,113.2 L818.7,113.1 L821.0,113.0 L823.4,112.9 L825.7,112.8 L828.0,112.7 L830.4,112.6 L832.7,112.5 L835.0,112.5 L837.3,112.4 L839.7,112.4 L842.0,112.3 L844.3,112.3 L846.7,112.3 L849.0,112.4" stroke="#000" stroke-opacity="0.32" stroke-width="0.9"/>
<path d="M385.3,319.7 L387.6,319.7 L390.0,319.7 L392.3,319.7 L394.6,319.7 L397.0,319.7 L399.3,319.7 L401.6,319.7 L403.9,319.7 L406.3,319.7 L408.6,319.6 L410.9,319.6 L413.3,319.6 L415.6,319.6 L417.9,319.6 L420.3,319.6 L422.6,319.6 L424.9,319.5 L427.2,319.5 L429.6,319.5 L431.9,319.5 L434.2,319.5 L436.6,319.4 L438.9,319.4 L441.2,319.4 L443.6,319.3 L445.9,319.3 L448.2,319.2 L450.5,319.0 L452.9,318.9 L455.2,318.8 L457.5,318.8 L459.9,318.7 L462.2,318.7 L464.5,318.6 L466.9,318.4 L469.2,318.2 L471.5,317.9 L473.8,317.6 L476.2,317.1 L478.5,316.6 L480.8,316.0 L483.2,315.4 L485.5,314.8 L487.8,314.1 L490.2,313.3 L492.5,312.5 L494.8,311.7 L497.1,310.8 L499.5,309.8 L501.8,308.9 L504.1,307.8 L506.5,306.8 L508.8,305.6 L511.1,304.5 L513.5,303.3 L515.8,302.0 L518.1,300.7 L520.4,299.4 L522.8,298.0 L525.1,296.7 L527.4,295.3 L529.8,293.9 L532.1,292.4 L534.4,291.0 L536.8,289.6 L539.1,288.2 L541.4,286.8 L543.8,285.5 L546.1,284.1 L548.4,282.8 L550.7,281.5 L553.1,280.2 L555.4,279.0 L557.7,277.8 L560.1,276.6 L562.4,275.4 L564.7,274.2 L567.1,273.1 L569.4,272.1 L571.7,271.0 L574.0,270.0 L576.4,269.0 L578.7,268.1 L581.0,267.2 L583.4,266.3 L585.7,265.5 L588.0,264.7 L590.4,263.9 L592.7,263.2 L595.0,262.5 L597.3,261.9 L599.7,261.2 L602.0,260.6 L604.3,260.1 L606.7,259.5 L609.0,259.0 L611.3,258.6 L613.7,258.1 L616.0,257.7 L618.3,257.3 L620.6,256.9 L623.0,256.6 L625.3,256.2 L627.6,255.9 L630.0,255.6 L632.3,255.4 L634.6,255.1 L637.0,254.9 L639.3,254.7 L641.6,254.5 L643.9,254.3 L646.3,254.2 L648.6,254.0 L650.9,253.9 L653.3,253.8 L655.6,253.7 L657.9,253.6 L660.3,253.5 L662.6,253.4 L664.9,253.4 L667.2,253.3 L669.6,253.3 L671.9,253.2 L674.2,253.2 L676.6,253.2 L678.9,253.1 L681.2,253.1 L683.6,253.1 L685.9,253.1 L688.2,253.0 L690.5,253.0 L692.9,253.0 L695.2,253.0 L697.5,253.0 L699.9,253.0 L702.2,253.0 L704.5,253.0 L706.9,253.0 L709.2,253.0 L711.5,253.0 L713.9,253.0 L716.2,253.0 L718.5,253.0 L720.8,253.0 L723.2,253.0 L725.5,253.1 L727.8,253.1 L730.2,253.1 L732.5,253.1 L734.8,253.1 L737.2,253.1 L739.5,253.1 L741.8,253.2 L744.1,253.2 L746.5,253.2 L748.8,253.2 L751.1,253.2 L753.5,253.3 L755.8,253.3 L758.1,253.3 L760.5,253.3 L762.8,253.3 L765.1,253.3 L767.4,253.4 L769.8,253.4 L772.1,253.4 L774.4,253.4 L776.8,253.4 L779.1,253.4 L781.4,253.5 L783.8,253.5 L786.1,253.5 L788.4,253.5 L790.7,253.5 L793.1,253.5 L795.4,253.5 L797.7,253.5 L800.1,253.5 L802.4,253.5 L804.7,253.5 L807.1,253.5 L809.4,253.5 L811.7,253.5 L814.0,253.5 L816.4,253.5 L818.7,253.5 L821.0,253.4 L823.4,253.4 L825.7,253.4 L828.0,253.4 L830.4,253.3 L832.7,253.3 L835.0,253.3 L837.3,253.2 L839.7,253.2 L842.0,253.2 L844.3,253.1 L846.7,253.1 L849.0,253.0 L849.0,271.7 L846.7,271.7 L844.3,271.7 L842.0,271.6 L839.7,271.6 L837.3,271.6 L835.0,271.6 L832.7,271.6 L830.4,271.6 L828.0,271.5 L825.7,271.5 L823.4,271.5 L821.0,271.5 L818.7,271.5 L816.4,271.5 L814.0,271.4 L811.7,271.4 L809.4,271.4 L807.1,271.4 L804.7,271.4 L802.4,271.3 L800.1,271.3 L797.7,271.3 L795.4,271.3 L793.1,271.2 L790.7,271.2 L788.4,271.2 L786.1,271.2 L783.8,271.1 L781.4,271.1 L779.1,271.1 L776.8,271.1 L774.4,271.0 L772.1,271.0 L769.8,271.0 L767.4,270.9 L765.1,270.9 L762.8,270.9 L760.5,270.8 L758.1,270.8 L755.8,270.8 L753.5,270.7 L751.1,270.7 L748.8,270.7 L746.5,270.6 L744.1,270.6 L741.8,270.5 L739.5,270.5 L737.2,270.4 L734.8,270.4 L732.5,270.4 L730.2,270.3 L727.8,270.3 L725.5,270.2 L723.2,270.2 L720.8,270.1 L718.5,270.0 L716.2,270.0 L713.9,269.9 L711.5,269.9 L709.2,269.8 L706.9,269.7 L704.5,269.7 L702.2,269.6 L699.9,269.6 L697.5,269.5 L695.2,269.4 L692.9,269.3 L690.5,269.3 L688.2,269.2 L685.9,269.1 L683.6,269.0 L681.2,269.0 L678.9,268.9 L676.6,268.8 L674.2,268.7 L671.9,268.6 L669.6,268.6 L667.2,268.5 L664.9,268.4 L662.6,268.3 L660.3,268.3 L657.9,268.2 L655.6,268.2 L653.3,268.1 L650.9,268.1 L648.6,268.1 L646.3,268.1 L643.9,268.1 L641.6,268.1 L639.3,268.1 L637.0,268.1 L634.6,268.2 L632.3,268.3 L630.0,268.4 L627.6,268.5 L625.3,268.6 L623.0,268.8 L620.6,269.0 L618.3,269.1 L616.0,269.4 L613.7,269.6 L611.3,269.9 L609.0,270.2 L606.7,270.5 L604.3,270.9 L602.0,271.3 L599.7,271.7 L597.3,272.1 L595.0,272.6 L592.7,273.1 L590.4,273.7 L588.0,274.2 L585.7,274.9 L583.4,275.5 L581.0,276.2 L578.7,276.9 L576.4,277.7 L574.0,278.5 L571.7,279.4 L569.4,280.3 L567.1,281.2 L564.7,282.1 L562.4,283.1 L560.1,284.1 L557.7,285.1 L555.4,286.2 L553.1,287.3 L550.7,288.4 L548.4,289.5 L546.1,290.7 L543.8,291.9 L541.4,293.1 L539.1,294.3 L536.8,295.5 L534.4,296.8 L532.1,298.0 L529.8,299.3 L527.4,300.5 L525.1,301.8 L522.8,303.0 L520.4,304.2 L518.1,305.4 L515.8,306.5 L513.5,307.7 L511.1,308.7 L508.8,309.8 L506.5,310.7 L504.1,311.7 L501.8,312.6 L499.5,313.4 L497.1,314.2 L494.8,315.0 L492.5,315.6 L490.2,316.3 L487.8,316.8 L485.5,317.4 L483.2,317.8 L480.8,318.2 L478.5,318.6 L476.2,318.9 L473.8,319.2 L471.5,319.4 L469.2,319.5 L466.9,319.6 L464.5,319.6 L462.2,319.7 L459.9,319.7 L457.5,319.7 L455.2,319.7 L452.9,319.7 L450.5,319.8 L448.2,319.9 L445.9,319.9 L443.6,320.0 L441.2,320.0 L438.9,320.0 L436.6,320.0 L434.2,320.0 L431.9,320.0 L429.6,320.0 L427.2,320.0 L424.9,320.0 L422.6,320.1 L420.3,320.1 L417.9,320.1 L415.6,320.1 L413.3,320.1 L410.9,320.1 L408.6,320.1 L406.3,320.1 L403.9,320.1 L401.6,320.1 L399.3,320.1 L397.0,320.1 L394.6,320.1 L392.3,320.1 L390.0,320.1 L387.6,320.1 L385.3,320.1Z" fill="#000" fill-opacity="0.11"/>
<path d="M385.3,319.7 L387.6,319.7 L390.0,319.7 L392.3,319.7 L394.6,319.7 L397.0,319.7 L399.3,319.7 L401.6,319.7 L403.9,319.7 L406.3,319.7 L408.6,319.6 L410.9,319.6 L413.3,319.6 L415.6,319.6 L417.9,319.6 L420.3,319.6 L422.6,319.6 L424.9,319.5 L427.2,319.5 L429.6,319.5 L431.9,319.5 L434.2,319.5 L436.6,319.4 L438.9,319.4 L441.2,319.4 L443.6,319.3 L445.9,319.3 L448.2,319.2 L450.5,319.0 L452.9,318.9 L455.2,318.8 L457.5,318.8 L459.9,318.7 L462.2,318.7 L464.5,318.6 L466.9,318.4 L469.2,318.2 L471.5,317.9 L473.8,317.6 L476.2,317.1 L478.5,316.6 L480.8,316.0 L483.2,315.4 L485.5,314.8 L487.8,314.1 L490.2,313.3 L492.5,312.5 L494.8,311.7 L497.1,310.8 L499.5,309.8 L501.8,308.9 L504.1,307.8 L506.5,306.8 L508.8,305.6 L511.1,304.5 L513.5,303.3 L515.8,302.0 L518.1,300.7 L520.4,299.4 L522.8,298.0 L525.1,296.7 L527.4,295.3 L529.8,293.9 L532.1,292.4 L534.4,291.0 L536.8,289.6 L539.1,288.2 L541.4,286.8 L543.8,285.5 L546.1,284.1 L548.4,282.8 L550.7,281.5 L553.1,280.2 L555.4,279.0 L557.7,277.8 L560.1,276.6 L562.4,275.4 L564.7,274.2 L567.1,273.1 L569.4,272.1 L571.7,271.0 L574.0,270.0 L576.4,269.0 L578.7,268.1 L581.0,267.2 L583.4,266.3 L585.7,265.5 L588.0,264.7 L590.4,263.9 L592.7,263.2 L595.0,262.5 L597.3,261.9 L599.7,261.2 L602.0,260.6 L604.3,260.1 L606.7,259.5 L609.0,259.0 L611.3,258.6 L613.7,258.1 L616.0,257.7 L618.3,257.3 L620.6,256.9 L623.0,256.6 L625.3,256.2 L627.6,255.9 L630.0,255.6 L632.3,255.4 L634.6,255.1 L637.0,254.9 L639.3,254.7 L641.6,254.5 L643.9,254.3 L646.3,254.2 L648.6,254.0 L650.9,253.9 L653.3,253.8 L655.6,253.7 L657.9,253.6 L660.3,253.5 L662.6,253.4 L664.9,253.4 L667.2,253.3 L669.6,253.3 L671.9,253.2 L674.2,253.2 L676.6,253.2 L678.9,253.1 L681.2,253.1 L683.6,253.1 L685.9,253.1 L688.2,253.0 L690.5,253.0 L692.9,253.0 L695.2,253.0 L697.5,253.0 L699.9,253.0 L702.2,253.0 L704.5,253.0 L706.9,253.0 L709.2,253.0 L711.5,253.0 L713.9,253.0 L716.2,253.0 L718.5,253.0 L720.8,253.0 L723.2,253.0 L725.5,253.1 L727.8,253.1 L730.2,253.1 L732.5,253.1 L734.8,253.1 L737.2,253.1 L739.5,253.1 L741.8,253.2 L744.1,253.2 L746.5,253.2 L748.8,253.2 L751.1,253.2 L753.5,253.3 L755.8,253.3 L758.1,253.3 L760.5,253.3 L762.8,253.3 L765.1,253.3 L767.4,253.4 L769.8,253.4 L772.1,253.4 L774.4,253.4 L776.8,253.4 L779.1,253.4 L781.4,253.5 L783.8,253.5 L786.1,253.5 L788.4,253.5 L790.7,253.5 L793.1,253.5 L795.4,253.5 L797.7,253.5 L800.1,253.5 L802.4,253.5 L804.7,253.5 L807.1,253.5 L809.4,253.5 L811.7,253.5 L814.0,253.5 L816.4,253.5 L818.7,253.5 L821.0,253.4 L823.4,253.4 L825.7,253.4 L828.0,253.4 L830.4,253.3 L832.7,253.3 L835.0,253.3 L837.3,253.2 L839.7,253.2 L842.0,253.2 L844.3,253.1 L846.7,253.1 L849.0,253.0 M385.3,320.1 L387.6,320.1 L390.0,320.1 L392.3,320.1 L394.6,320.1 L397.0,320.1 L399.3,320.1 L401.6,320.1 L403.9,320.1 L406.3,320.1 L408.6,320.1 L410.9,320.1 L413.3,320.1 L415.6,320.1 L417.9,320.1 L420.3,320.1 L422.6,320.1 L424.9,320.0 L427.2,320.0 L429.6,320.0 L431.9,320.0 L434.2,320.0 L436.6,320.0 L438.9,320.0 L441.2,320.0 L443.6,320.0 L445.9,319.9 L448.2,319.9 L450.5,319.8 L452.9,319.7 L455.2,319.7 L457.5,319.7 L459.9,319.7 L462.2,319.7 L464.5,319.6 L466.9,319.6 L469.2,319.5 L471.5,319.4 L473.8,319.2 L476.2,318.9 L478.5,318.6 L480.8,318.2 L483.2,317.8 L485.5,317.4 L487.8,316.8 L490.2,316.3 L492.5,315.6 L494.8,315.0 L497.1,314.2 L499.5,313.4 L501.8,312.6 L504.1,311.7 L506.5,310.7 L508.8,309.8 L511.1,308.7 L513.5,307.7 L515.8,306.5 L518.1,305.4 L520.4,304.2 L522.8,303.0 L525.1,301.8 L527.4,300.5 L529.8,299.3 L532.1,298.0 L534.4,296.8 L536.8,295.5 L539.1,294.3 L541.4,293.1 L543.8,291.9 L546.1,290.7 L548.4,289.5 L550.7,288.4 L553.1,287.3 L555.4,286.2 L557.7,285.1 L560.1,284.1 L562.4,283.1 L564.7,282.1 L567.1,281.2 L569.4,280.3 L571.7,279.4 L574.0,278.5 L576.4,277.7 L578.7,276.9 L581.0,276.2 L583.4,275.5 L585.7,274.9 L588.0,274.2 L590.4,273.7 L592.7,273.1 L595.0,272.6 L597.3,272.1 L599.7,271.7 L602.0,271.3 L604.3,270.9 L606.7,270.5 L609.0,270.2 L611.3,269.9 L613.7,269.6 L616.0,269.4 L618.3,269.1 L620.6,269.0 L623.0,268.8 L625.3,268.6 L627.6,268.5 L630.0,268.4 L632.3,268.3 L634.6,268.2 L637.0,268.1 L639.3,268.1 L641.6,268.1 L643.9,268.1 L646.3,268.1 L648.6,268.1 L650.9,268.1 L653.3,268.1 L655.6,268.2 L657.9,268.2 L660.3,268.3 L662.6,268.3 L664.9,268.4 L667.2,268.5 L669.6,268.6 L671.9,268.6 L674.2,268.7 L676.6,268.8 L678.9,268.9 L681.2,269.0 L683.6,269.0 L685.9,269.1 L688.2,269.2 L690.5,269.3 L692.9,269.3 L695.2,269.4 L697.5,269.5 L699.9,269.6 L702.2,269.6 L704.5,269.7 L706.9,269.7 L709.2,269.8 L711.5,269.9 L713.9,269.9 L716.2,270.0 L718.5,270.0 L720.8,270.1 L723.2,270.2 L725.5,270.2 L727.8,270.3 L730.2,270.3 L732.5,270.4 L734.8,270.4 L737.2,270.4 L739.5,270.5 L741.8,270.5 L744.1,270.6 L746.5,270.6 L748.8,270.7 L751.1,270.7 L753.5,270.7 L755.8,270.8 L758.1,270.8 L760.5,270.8 L762.8,270.9 L765.1,270.9 L767.4,270.9 L769.8,271.0 L772.1,271.0 L774.4,271.0 L776.8,271.1 L779.1,271.1 L781.4,271.1 L783.8,271.1 L786.1,271.2 L788.4,271.2 L790.7,271.2 L793.1,271.2 L795.4,271.3 L797.7,271.3 L800.1,271.3 L802.4,271.3 L804.7,271.4 L807.1,271.4 L809.4,271.4 L811.7,271.4 L814.0,271.4 L816.4,271.5 L818.7,271.5 L821.0,271.5 L823.4,271.5 L825.7,271.5 L828.0,271.5 L830.4,271.6 L832.7,271.6 L835.0,271.6 L837.3,271.6 L839.7,271.6 L842.0,271.6 L844.3,271.7 L846.7,271.7 L849.0,271.7" stroke="#000" stroke-opacity="0.25" stroke-width="0.9"/>
<path d="M385.3,319.9 L387.6,319.9 L390.0,319.9 L392.3,319.9 L394.6,319.9 L397.0,319.9 L399.3,319.9 L401.6,319.9 L403.9,319.9 L406.3,319.8 L408.6,319.8 L410.9,319.8 L413.3,319.8 L415.6,319.8 L417.9,319.8 L420.3,319.7 L422.6,319.7 L424.9,319.7 L427.2,319.7 L429.6,319.6 L431.9,319.6 L434.2,319.6 L436.6,319.5 L438.9,319.5 L441.2,319.5 L443.6,319.4 L445.9,319.3 L448.2,319.2 L450.5,319.0 L452.9,318.9 L455.2,318.7 L457.5,318.5 L459.9,318.3 L462.2,317.9 L464.5,317.4 L466.9,316.7 L469.2,316.0 L471.5,315.1 L473.8,314.1 L476.2,313.1 L478.5,311.9 L480.8,310.7 L483.2,309.4 L485.5,307.9 L487.8,306.4 L490.2,304.7 L492.5,302.9 L494.8,301.0 L497.1,299.0 L499.5,296.9 L501.8,294.7 L504.1,292.3 L506.5,289.6 L508.8,286.7 L511.1,283.5 L513.5,279.9 L515.8,276.0 L518.1,271.8 L520.4,267.3 L522.8,262.7 L525.1,258.1 L527.4,253.4 L529.8,248.7 L532.1,243.9 L534.4,239.2 L536.8,234.4 L539.1,229.7 L541.4,224.9 L543.8,220.1 L546.1,215.4 L548.4,210.6 L550.7,205.9 L553.1,201.2 L555.4,196.5 L557.7,191.8 L560.1,187.2 L562.4,182.6 L564.7,178.1 L567.1,173.6 L569.4,169.2 L571.7,164.8 L574.0,160.5 L576.4,156.3 L578.7,152.1 L581.0,148.1 L583.4,144.1 L585.7,140.2 L588.0,136.4 L590.4,132.7 L592.7,129.0 L595.0,125.5 L597.3,122.1 L599.7,118.8 L602.0,115.5 L604.3,112.4 L606.7,109.3 L609.0,106.4 L611.3,103.5 L613.7,100.8 L616.0,98.1 L618.3,95.5 L620.6,93.1 L623.0,90.7 L625.3,88.4 L627.6,86.2 L630.0,84.1 L632.3,82.0 L634.6,80.1 L637.0,78.2 L639.3,76.3 L641.6,74.5 L643.9,72.8 L646.3,71.1 L648.6,69.5 L650.9,67.9 L653.3,66.4 L655.6,64.9 L657.9,63.4 L660.3,62.0 L662.6,60.7 L664.9,59.3 L667.2,58.1 L669.6,56.8 L671.9,55.6 L674.2,54.5 L676.6,53.4 L678.9,52.3 L681.2,51.3 L683.6,50.3 L685.9,49.3 L688.2,48.4 L690.5,47.5 L692.9,46.6 L695.2,45.8 L697.5,45.0 L699.9,44.2 L702.2,43.4 L704.5,42.7 L706.9,42.0 L709.2,41.4 L711.5,40.8 L713.9,40.2 L716.2,39.6 L718.5,39.0 L720.8,38.5 L723.2,38.0 L725.5,37.5 L727.8,37.1 L730.2,36.7 L732.5,36.2 L734.8,35.9 L737.2,35.5 L739.5,35.1 L741.8,34.8 L744.1,34.5 L746.5,34.2 L748.8,33.9 L751.1,33.7 L753.5,33.5 L755.8,33.2 L758.1,33.0 L760.5,32.8 L762.8,32.7 L765.1,32.5 L767.4,32.3 L769.8,32.2 L772.1,32.1 L774.4,31.9 L776.8,31.8 L779.1,31.7 L781.4,31.7 L783.8,31.6 L786.1,31.5 L788.4,31.4 L790.7,31.4 L793.1,31.3 L795.4,31.3 L797.7,31.2 L800.1,31.2 L802.4,31.2 L804.7,31.1 L807.1,31.1 L809.4,31.1 L811.7,31.0 L814.0,31.0 L816.4,31.0 L818.7,31.0 L821.0,30.9 L823.4,30.9 L825.7,30.9 L828.0,30.8 L830.4,30.8 L832.7,30.7 L835.0,30.7 L837.3,30.6 L839.7,30.6 L842.0,30.5 L844.3,30.4 L846.7,30.3 L849.0,30.3" stroke="#8e8e8e" stroke-width="2.8"/>
<path d="M385.3,319.9 L387.6,319.9 L390.0,319.9 L392.3,319.9 L394.6,319.9 L397.0,319.9 L399.3,319.9 L401.6,319.9 L403.9,319.9 L406.3,319.9 L408.6,319.8 L410.9,319.8 L413.3,319.8 L415.6,319.8 L417.9,319.8 L420.3,319.8 L422.6,319.8 L424.9,319.7 L427.2,319.7 L429.6,319.7 L431.9,319.7 L434.2,319.7 L436.6,319.6 L438.9,319.6 L441.2,319.6 L443.6,319.5 L445.9,319.5 L448.2,319.4 L450.5,319.3 L452.9,319.1 L455.2,319.0 L457.5,318.9 L459.9,318.7 L462.2,318.5 L464.5,318.1 L466.9,317.6 L469.2,317.1 L471.5,316.4 L473.8,315.6 L476.2,314.6 L478.5,313.7 L480.8,312.6 L483.2,311.4 L485.5,310.1 L487.8,308.7 L490.2,307.2 L492.5,305.7 L494.8,304.0 L497.1,302.2 L499.5,300.3 L501.8,298.3 L504.1,296.2 L506.5,294.1 L508.8,291.8 L511.1,289.5 L513.5,287.0 L515.8,284.5 L518.1,281.9 L520.4,279.2 L522.8,276.5 L525.1,273.7 L527.4,270.8 L529.8,267.8 L532.1,264.7 L534.4,261.6 L536.8,258.5 L539.1,255.2 L541.4,251.9 L543.8,248.6 L546.1,245.2 L548.4,241.8 L550.7,238.4 L553.1,234.9 L555.4,231.4 L557.7,227.9 L560.1,224.5 L562.4,221.0 L564.7,217.5 L567.1,214.1 L569.4,210.7 L571.7,207.4 L574.0,204.0 L576.4,200.8 L578.7,197.6 L581.0,194.4 L583.4,191.3 L585.7,188.3 L588.0,185.3 L590.4,182.4 L592.7,179.5 L595.0,176.7 L597.3,174.0 L599.7,171.3 L602.0,168.6 L604.3,166.0 L606.7,163.5 L609.0,161.0 L611.3,158.6 L613.7,156.2 L616.0,153.9 L618.3,151.6 L620.6,149.4 L623.0,147.2 L625.3,145.1 L627.6,143.1 L630.0,141.0 L632.3,139.1 L634.6,137.2 L637.0,135.3 L639.3,133.5 L641.6,131.8 L643.9,130.1 L646.3,128.4 L648.6,126.8 L650.9,125.2 L653.3,123.7 L655.6,122.3 L657.9,120.8 L660.3,119.4 L662.6,118.1 L664.9,116.8 L667.2,115.5 L669.6,114.3 L671.9,113.1 L674.2,112.0 L676.6,110.9 L678.9,109.8 L681.2,108.8 L683.6,107.8 L685.9,106.9 L688.2,105.9 L690.5,105.1 L692.9,104.2 L695.2,103.4 L697.5,102.6 L699.9,101.8 L702.2,101.1 L704.5,100.4 L706.9,99.7 L709.2,99.1 L711.5,98.5 L713.9,97.9 L716.2,97.3 L718.5,96.8 L720.8,96.3 L723.2,95.8 L725.5,95.4 L727.8,94.9 L730.2,94.5 L732.5,94.1 L734.8,93.8 L737.2,93.4 L739.5,93.1 L741.8,92.8 L744.1,92.5 L746.5,92.2 L748.8,91.9 L751.1,91.7 L753.5,91.5 L755.8,91.3 L758.1,91.1 L760.5,90.9 L762.8,90.7 L765.1,90.6 L767.4,90.4 L769.8,90.3 L772.1,90.2 L774.4,90.0 L776.8,89.9 L779.1,89.8 L781.4,89.8 L783.8,89.7 L786.1,89.6 L788.4,89.5 L790.7,89.5 L793.1,89.4 L795.4,89.4 L797.7,89.3 L800.1,89.3 L802.4,89.2 L804.7,89.2 L807.1,89.1 L809.4,89.1 L811.7,89.0 L814.0,89.0 L816.4,88.9 L818.7,88.9 L821.0,88.8 L823.4,88.8 L825.7,88.7 L828.0,88.6 L830.4,88.6 L832.7,88.5 L835.0,88.4 L837.3,88.3 L839.7,88.2 L842.0,88.1 L844.3,87.9 L846.7,87.8 L849.0,87.6" stroke="#303030" stroke-width="2.8"/>
<path d="M385.3,319.9 L387.6,319.9 L390.0,319.9 L392.3,319.9 L394.6,319.9 L397.0,319.9 L399.3,319.9 L401.6,319.9 L403.9,319.9 L406.3,319.9 L408.6,319.9 L410.9,319.9 L413.3,319.8 L415.6,319.8 L417.9,319.8 L420.3,319.8 L422.6,319.8 L424.9,319.8 L427.2,319.8 L429.6,319.8 L431.9,319.8 L434.2,319.7 L436.6,319.7 L438.9,319.7 L441.2,319.7 L443.6,319.6 L445.9,319.6 L448.2,319.5 L450.5,319.4 L452.9,319.3 L455.2,319.2 L457.5,319.3 L459.9,319.3 L462.2,319.3 L464.5,319.3 L466.9,319.2 L469.2,319.1 L471.5,318.9 L473.8,318.6 L476.2,318.2 L478.5,317.7 L480.8,317.2 L483.2,316.6 L485.5,316.0 L487.8,315.4 L490.2,314.7 L492.5,313.9 L494.8,313.2 L497.1,312.3 L499.5,311.5 L501.8,310.6 L504.1,309.6 L506.5,308.6 L508.8,307.6 L511.1,306.5 L513.5,305.4 L515.8,304.2 L518.1,303.0 L520.4,301.8 L522.8,300.6 L525.1,299.3 L527.4,298.0 L529.8,296.7 L532.1,295.4 L534.4,294.1 L536.8,292.8 L539.1,291.5 L541.4,290.2 L543.8,288.9 L546.1,287.7 L548.4,286.4 L550.7,285.2 L553.1,284.0 L555.4,282.8 L557.7,281.6 L560.1,280.5 L562.4,279.4 L564.7,278.3 L567.1,277.2 L569.4,276.2 L571.7,275.2 L574.0,274.3 L576.4,273.4 L578.7,272.5 L581.0,271.6 L583.4,270.8 L585.7,270.1 L588.0,269.4 L590.4,268.7 L592.7,268.0 L595.0,267.4 L597.3,266.8 L599.7,266.3 L602.0,265.8 L604.3,265.3 L606.7,264.8 L609.0,264.4 L611.3,264.0 L613.7,263.7 L616.0,263.3 L618.3,263.0 L620.6,262.7 L623.0,262.5 L625.3,262.2 L627.6,262.0 L630.0,261.8 L632.3,261.6 L634.6,261.5 L637.0,261.3 L639.3,261.2 L641.6,261.1 L643.9,261.0 L646.3,260.9 L648.6,260.9 L650.9,260.8 L653.3,260.8 L655.6,260.8 L657.9,260.7 L660.3,260.7 L662.6,260.7 L664.9,260.7 L667.2,260.7 L669.6,260.8 L671.9,260.8 L674.2,260.8 L676.6,260.8 L678.9,260.8 L681.2,260.9 L683.6,260.9 L685.9,260.9 L688.2,260.9 L690.5,261.0 L692.9,261.0 L695.2,261.0 L697.5,261.0 L699.9,261.1 L702.2,261.1 L704.5,261.1 L706.9,261.1 L709.2,261.1 L711.5,261.2 L713.9,261.2 L716.2,261.2 L718.5,261.2 L720.8,261.3 L723.2,261.3 L725.5,261.3 L727.8,261.3 L730.2,261.3 L732.5,261.3 L734.8,261.4 L737.2,261.4 L739.5,261.4 L741.8,261.4 L744.1,261.4 L746.5,261.5 L748.8,261.5 L751.1,261.5 L753.5,261.5 L755.8,261.5 L758.1,261.5 L760.5,261.6 L762.8,261.6 L765.1,261.6 L767.4,261.6 L769.8,261.6 L772.1,261.6 L774.4,261.7 L776.8,261.7 L779.1,261.7 L781.4,261.7 L783.8,261.7 L786.1,261.7 L788.4,261.8 L790.7,261.8 L793.1,261.8 L795.4,261.8 L797.7,261.8 L800.1,261.8 L802.4,261.9 L804.7,261.9 L807.1,261.9 L809.4,261.9 L811.7,261.9 L814.0,261.9 L816.4,261.9 L818.7,262.0 L821.0,262.0 L823.4,262.0 L825.7,262.0 L828.0,262.0 L830.4,262.0 L832.7,262.1 L835.0,262.1 L837.3,262.1 L839.7,262.1 L842.0,262.1 L844.3,262.1 L846.7,262.1 L849.0,262.2" stroke="#848484" stroke-width="2.8"/>
</g>
<rect x="385.3" y="6.2" width="473.3" height="319.8" fill="none" stroke="#4a4a4a" stroke-width="1.5"/>
<path d="M385.3,326.0v-2.6M385.3,6.2v2.6M408.9,326.0v-1.5M408.9,6.2v1.5M432.6,326.0v-1.5M432.6,6.2v1.5M456.2,326.0v-1.5M456.2,6.2v1.5M479.9,326.0v-2.6M479.9,6.2v2.6M503.5,326.0v-1.5M503.5,6.2v1.5M527.2,326.0v-1.5M527.2,6.2v1.5M550.8,326.0v-1.5M550.8,6.2v1.5M574.5,326.0v-2.6M574.5,6.2v2.6M598.1,326.0v-1.5M598.1,6.2v1.5M621.8,326.0v-1.5M621.8,6.2v1.5M645.4,326.0v-1.5M645.4,6.2v1.5M669.0,326.0v-2.6M669.0,6.2v2.6M692.7,326.0v-1.5M692.7,6.2v1.5M716.3,326.0v-1.5M716.3,6.2v1.5M740.0,326.0v-1.5M740.0,6.2v1.5M763.6,326.0v-2.6M763.6,6.2v2.6M787.3,326.0v-1.5M787.3,6.2v1.5M810.9,326.0v-1.5M810.9,6.2v1.5M834.6,326.0v-1.5M834.6,6.2v1.5M858.2,326.0v-2.6M858.2,6.2v2.6M385.3,319.9h2.6M858.6,319.9h-2.6M385.3,311.9h1.5M858.6,311.9h-1.5M385.3,303.9h1.5M858.6,303.9h-1.5M385.3,295.9h1.5M858.6,295.9h-1.5M385.3,287.9h1.5M858.6,287.9h-1.5M385.3,279.8h2.6M858.6,279.8h-2.6M385.3,271.8h1.5M858.6,271.8h-1.5M385.3,263.8h1.5M858.6,263.8h-1.5M385.3,255.8h1.5M858.6,255.8h-1.5M385.3,247.8h1.5M858.6,247.8h-1.5M385.3,239.8h2.6M858.6,239.8h-2.6M385.3,231.8h1.5M858.6,231.8h-1.5M385.3,223.8h1.5M858.6,223.8h-1.5M385.3,215.8h1.5M858.6,215.8h-1.5M385.3,207.8h1.5M858.6,207.8h-1.5M385.3,199.8h2.6M858.6,199.8h-2.6M385.3,191.7h1.5M858.6,191.7h-1.5M385.3,183.7h1.5M858.6,183.7h-1.5M385.3,175.7h1.5M858.6,175.7h-1.5M385.3,167.7h1.5M858.6,167.7h-1.5M385.3,159.7h2.6M858.6,159.7h-2.6M385.3,151.7h1.5M858.6,151.7h-1.5M385.3,143.7h1.5M858.6,143.7h-1.5M385.3,135.7h1.5M858.6,135.7h-1.5M385.3,127.7h1.5M858.6,127.7h-1.5M385.3,119.6h2.6M858.6,119.6h-2.6M385.3,111.6h1.5M858.6,111.6h-1.5M385.3,103.6h1.5M858.6,103.6h-1.5M385.3,95.6h1.5M858.6,95.6h-1.5M385.3,87.6h1.5M858.6,87.6h-1.5M385.3,79.6h2.6M858.6,79.6h-2.6M385.3,71.6h1.5M858.6,71.6h-1.5M385.3,63.6h1.5M858.6,63.6h-1.5M385.3,55.6h1.5M858.6,55.6h-1.5M385.3,47.6h1.5M858.6,47.6h-1.5M385.3,39.5h2.6M858.6,39.5h-2.6M385.3,31.5h1.5M858.6,31.5h-1.5M385.3,23.5h1.5M858.6,23.5h-1.5M385.3,15.5h1.5M858.6,15.5h-1.5M385.3,7.5h1.5M858.6,7.5h-1.5" stroke="#4a4a4a" stroke-width="0.9" fill="none"/>
<g font-family="Liberation Serif, serif" font-size="20px" fill="#222">
<text x="381" y="326.1" text-anchor="end">0.0</text>
<text x="381" y="287.8" text-anchor="end">0.1</text>
<text x="381" y="247.8" text-anchor="end">0.2</text>
<text x="381" y="207.7" text-anchor="end">0.3</text>
<text x="381" y="167.7" text-anchor="end">0.4</text>
<text x="381" y="127.6" text-anchor="end">0.5</text>
<text x="381" y="87.6" text-anchor="end">0.6</text>
<text x="381" y="47.5" text-anchor="end">0.7</text>
<text x="387.4" y="344.8" text-anchor="middle">0.0</text>
<text x="479.5" y="344.8" text-anchor="middle">0.2</text>
<text x="574.1" y="344.8" text-anchor="middle">0.4</text>
<text x="668.6" y="344.8" text-anchor="middle">0.6</text>
<text x="763.2" y="344.8" text-anchor="middle">0.8</text>
<text x="857.8" y="344.8" text-anchor="middle">1.0</text>
</g>
<path d="M399.8,37.2H452.4" stroke="#929292" stroke-width="3.2" fill="none"/>
<path d="M399.8,75.9H452.4" stroke="#303030" stroke-width="3.2" fill="none"/>
<path d="M399.8,114.3H452.4" stroke="#8a8a8a" stroke-width="2.8" fill="none"/>
<g font-family="'Liberation Serif', 'Noto Serif CJK SC', serif" font-size="19.6px" fill="#222">
<text x="455.12" y="45.3">总</text>
<text x="500.91" y="45.3">相</text>
<text x="456.16" y="84.9" textLength="40.4" lengthAdjust="spacing">次级</text>
<text x="522.21" y="84.9">相</text>
<text x="455.08" y="122" textLength="41.6" lengthAdjust="spacing">初生</text>
<text x="522.21" y="122">相</text>
</g>
<text transform="translate(489.2,44.5) scale(1.28,1)" x="0" y="0" text-anchor="middle" font-family="Liberation Serif, serif" font-size="22px" fill="#222" fill-opacity=".85">α</text>
<text transform="translate(510.3,84.1) scale(1.28,1)" x="0" y="0" text-anchor="middle" font-family="Liberation Serif, serif" font-size="22px" fill="#222" fill-opacity=".85">α</text>
<text transform="translate(510.3,121.2) scale(1.28,1)" x="0" y="0" text-anchor="middle" font-family="Liberation Serif, serif" font-size="22px" fill="#222" fill-opacity=".85">α</text>
<g font-family="'Liberation Serif', 'Noto Serif CJK SC', serif" font-size="20.4px" fill="#222" text-anchor="middle">
<text transform="translate(340.8,200.6) rotate(-90)" x="0" y="7.7">体</text>
<text transform="translate(340.8,179.2) rotate(-90)" x="0" y="7.7">积</text>
<text transform="translate(340.8,157.8) rotate(-90)" x="0" y="7.7">密</text>
<text transform="translate(340.8,136.4) rotate(-90)" x="0" y="7.7">度</text>
</g>
<g font-family="'Liberation Serif', 'Noto Serif CJK SC', serif" font-size="19.8px" fill="#111">
<text x="140.89" y="396.3">图</text>
<text x="199.19" y="396.3" textLength="41.4" lengthAdjust="spacing">采用</text>
<text x="348.75" y="396.3" textLength="82" lengthAdjust="spacing">模型预测</text>
<text x="479.03" y="396.3" textLength="148" lengthAdjust="spacing">合金热处理过程</text>
<text x="651.41" y="396.3" textLength="82.5" lengthAdjust="spacing">相动力学</text>
</g>
<text x="166.4" y="395.0" textLength="8.8" lengthAdjust="spacingAndGlyphs" font-family="Liberation Serif, serif" font-size="20px" fill="#111" stroke="#111" stroke-width="0.4">3</text>
<text x="243.6" y="395.0" textLength="25.9" lengthAdjust="spacingAndGlyphs" font-family="Liberation Serif, serif" font-size="20px" fill="#111" stroke="#111" stroke-width="0.4">3D</text>
<text x="278.8" y="395.0" textLength="63.6" lengthAdjust="spacingAndGlyphs" font-family="Liberation Serif, serif" font-size="20px" fill="#111" stroke="#111" stroke-width="0.4">Boolean</text>
<text x="440.1" y="395.0" textLength="30.9" lengthAdjust="spacingAndGlyphs" font-family="Liberation Serif, serif" font-size="20px" fill="#111" stroke="#111" stroke-width="0.4">TC4</text>
<text transform="translate(639.2,395.0) scale(1.28,1)" x="0" y="0" text-anchor="middle" font-family="Liberation Serif, serif" font-size="17.5px" fill="#111" fill-opacity=".85">α</text>
<text x="9.3" y="429.8" textLength="25.9" lengthAdjust="spacingAndGlyphs" font-family="Liberation Serif, serif" font-size="20px" fill="#111" stroke="#111" stroke-width="0.4">Fig.</text>
<text x="46" y="429.8" textLength="6.8" lengthAdjust="spacingAndGlyphs" font-family="Liberation Serif, serif" font-size="20px" fill="#111" stroke="#111" stroke-width="0.4">3</text>
<text x="77.4" y="429.8" textLength="30.1" lengthAdjust="spacingAndGlyphs" font-family="Liberation Serif, serif" font-size="20px" fill="#111" stroke="#111" stroke-width="0.4">The</text>
<text x="135.6" y="429.8" textLength="46.4" lengthAdjust="spacingAndGlyphs" font-family="Liberation Serif, serif" font-size="20px" fill="#111" stroke="#111" stroke-width="0.4">phase</text>
<text x="190.3" y="429.8" textLength="75.6" lengthAdjust="spacingAndGlyphs" font-family="Liberation Serif, serif" font-size="20px" fill="#111" stroke="#111" stroke-width="0.4">dynamics</text>
<text x="274.2" y="429.8" textLength="13.8" lengthAdjust="spacingAndGlyphs" font-family="Liberation Serif, serif" font-size="20px" fill="#111" stroke="#111" stroke-width="0.4">of</text>
<text x="295" y="429.8" textLength="33.2" lengthAdjust="spacingAndGlyphs" font-family="Liberation Serif, serif" font-size="20px" fill="#111" stroke="#111" stroke-width="0.4">TC4</text>
<text x="337.8" y="429.8" textLength="36.2" lengthAdjust="spacingAndGlyphs" font-family="Liberation Serif, serif" font-size="20px" fill="#111" stroke="#111" stroke-width="0.4">alloy</text>
<text x="384.8" y="429.8" textLength="13.8" lengthAdjust="spacingAndGlyphs" font-family="Liberation Serif, serif" font-size="20px" fill="#111" stroke="#111" stroke-width="0.4">in</text>
<text x="407" y="429.8" textLength="33.2" lengthAdjust="spacingAndGlyphs" font-family="Liberation Serif, serif" font-size="20px" fill="#111" stroke="#111" stroke-width="0.4">heat</text>
<text x="449" y="429.8" textLength="74.7" lengthAdjust="spacingAndGlyphs" font-family="Liberation Serif, serif" font-size="20px" fill="#111" stroke="#111" stroke-width="0.4">treatment</text>
<text x="532.5" y="429.8" textLength="58.6" lengthAdjust="spacingAndGlyphs" font-family="Liberation Serif, serif" font-size="20px" fill="#111" stroke="#111" stroke-width="0.4">process</text>
<text x="599.8" y="429.8" textLength="79.8" lengthAdjust="spacingAndGlyphs" font-family="Liberation Serif, serif" font-size="20px" fill="#111" stroke="#111" stroke-width="0.4">prediction</text>
<text x="689.3" y="429.8" textLength="16.3" lengthAdjust="spacingAndGlyphs" font-family="Liberation Serif, serif" font-size="20px" fill="#111" stroke="#111" stroke-width="0.4">by</text>
<text x="715.4" y="429.8" textLength="22.8" lengthAdjust="spacingAndGlyphs" font-family="Liberation Serif, serif" font-size="20px" fill="#111" stroke="#111" stroke-width="0.4">3D</text>
<text x="748.6" y="429.8" textLength="62.9" lengthAdjust="spacingAndGlyphs" font-family="Liberation Serif, serif" font-size="20px" fill="#111" stroke="#111" stroke-width="0.4">Boolean</text>
<text x="819.6" y="429.8" textLength="47.3" lengthAdjust="spacingAndGlyphs" font-family="Liberation Serif, serif" font-size="20px" fill="#111" stroke="#111" stroke-width="0.4">model</text>
<text transform="translate(121.8,429.8) scale(1.28,1)" x="0" y="0" text-anchor="middle" font-family="Liberation Serif, serif" font-size="18px" fill="#111" fill-opacity=".85">α</text>
<path d="M126,425.2H137.2" stroke="#111" stroke-width="1.1" fill="none"/>
</g></svg>
</body></html>
